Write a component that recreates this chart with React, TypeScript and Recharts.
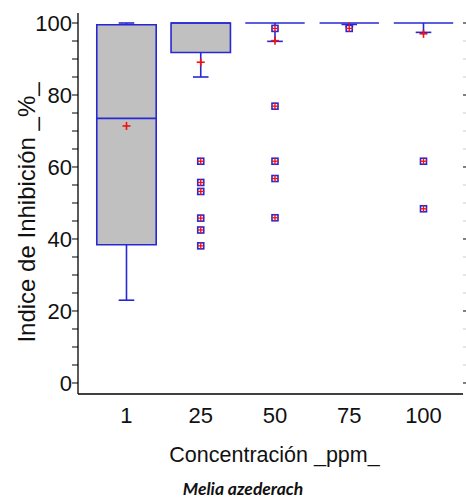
import React from "react";
import {
  ComposedChart,
  XAxis,
  YAxis,
  Scatter,
  ReferenceArea,
  ReferenceLine,
  Label,
} from "recharts";

// box plot stats per concentration
const concentrations = ["1", "25", "50", "75", "100"];
const whiskerLow = [23, 85, 94.9, 99.6, 97.4];
const q1 = [38.4, 91.8, 100, 100, 100];
const median = [73.5, 100, 100, 100, 100];
const q3 = [99.5, 100, 100, 100, 100];
const whiskerHigh = [100, 100, 100, 100, 100];
const means = [71.4, 89.1, 95.1, 99.0, 97.0];
const outliers = [
  [],
  [61.6, 55.7, 53.2, 45.8, 42.5, 38.1],
  [98.5, 76.9, 61.6, 56.8, 45.9],
  [98.5],
  [61.6, 48.4],
];
const yTicks = [0, 5, 10, 15, 20, 25, 30, 35, 40, 45, 50, 55, 60, 65, 70, 75, 80, 85, 90, 95, 100];

const BLUE = "#2727D4";
const RED = "#F01010";
const GRAY = "#C0C0C0";
const FONT = "'Liberation Sans', Arial, sans-serif";
const BOX_HALF = 0.4;
const CAP_HALF = 0.105;
const X_DOMAIN: [number, number] = [0.347, 5.532];
const Y_DOMAIN: [number, number] = [-3.06, 102.78];

const meanData = means.map((m, i) => ({ x: i + 1, y: m }));
const outlierData = outliers.flatMap((vals, i) => vals.map((v) => ({ x: i + 1, y: v })));

const MeanMark = (props: any) => {
  const { cx, cy } = props;
  return (
    <g stroke={RED} strokeWidth={1.6}>
      <line x1={cx - 4} x2={cx + 4} y1={cy} y2={cy} />
      <line x1={cx} x2={cx} y1={cy - 4} y2={cy + 4} />
    </g>
  );
};

const OutlierMark = (props: any) => {
  const { cx, cy } = props;
  return (
    <g>
      <rect x={cx - 3} y={cy - 3} width={6} height={6} fill="#fff" stroke={BLUE} strokeWidth={1.6} />
      <g stroke={RED} strokeWidth={1.3}>
        <line x1={cx - 3.5} x2={cx + 3.5} y1={cy} y2={cy} />
        <line x1={cx} x2={cx} y1={cy - 3.5} y2={cy + 3.5} />
      </g>
    </g>
  );
};

const LeftTick = (props: any) => {
  const { x, y, payload } = props;
  if (payload.value % 20 !== 0) return null;
  return (
    <text x={x} y={y} dy="0.36em" textAnchor="end" fontSize={22} fontFamily={FONT} fill="#111">
      {payload.value}
    </text>
  );
};

const RightTick = (props: any) => {
  const { x, y, payload } = props;
  const major = payload.value % 20 === 0;
  return <line x1={x} x2={x + 3} y1={y} y2={y} stroke={major ? "#000" : "#ccc"} strokeWidth={1} />;
};

const BottomTick = (props: any) => {
  const { x, y, payload } = props;
  return (
    <text x={x} y={y + 29} textAnchor="middle" fontSize={22} fontFamily={FONT} fill="#111">
      {concentrations[payload.value - 1]}
    </text>
  );
};

export default function App() {
  return (
    <div style={{ position: "absolute", left: 0, top: 0, width: 466, height: 498, background: "#fff", overflow: "hidden" }}>
      <ComposedChart width={466} height={498} margin={{ top: 13, right: 0, left: 0, bottom: 0 }}>
        <XAxis
          xAxisId={0}
          type="number"
          dataKey="x"
          domain={X_DOMAIN}
          allowDataOverflow
          ticks={[1, 2, 3, 4, 5]}
          interval={0}
          tick={<BottomTick />}
          tickLine={false}
          tickSize={0}
          tickMargin={0}
          height={104}
          axisLine={{ stroke: "#000", strokeWidth: 1.3 }}
        >
          <Label
            content={(p: any) => (
              <text
                x={p.viewBox.x + p.viewBox.width / 2 + 4}
                y={p.viewBox.y + 68}
                textAnchor="middle"
                fontSize={21.5}
                fontFamily={FONT}
                fill="#111"
              >
                Concentración _ppm_
              </text>
            )}
          />
          <Label
            content={(p: any) => (
              <text
                x={243}
                y={p.viewBox.y + 101}
                textAnchor="middle"
                fontSize={17.5}
                fontWeight="bold"
                fontStyle="italic"
                fontFamily="Lato, 'Open Sans', sans-serif"
                fill="#111"
              >
                Melia azederach
              </text>
            )}
          />
        </XAxis>
        <XAxis xAxisId="top" orientation="top" type="number" domain={[0, 1]} tick={false} tickLine={false} height={0} axisLine={{ stroke: "#000", strokeWidth: 1.3 }} />
        <YAxis
          yAxisId={0}
          type="number"
          domain={Y_DOMAIN}
          allowDataOverflow
          ticks={yTicks}
          interval={0}
          width={78}
          tickSize={6}
          tickMargin={0}
          tick={<LeftTick />}
          tickLine={{ stroke: "#000" }}
          axisLine={{ stroke: "#000", strokeWidth: 1.3 }}
        >
          <Label
            content={(p: any) => {
              const cx = p.viewBox.x + 26.5;
              const cy = p.viewBox.y + p.viewBox.height / 2 + 9;
              return (
                <text
                  x={cx}
                  y={cy}
                  transform={`rotate(-90, ${cx}, ${cy})`}
                  textAnchor="middle"
                  dominantBaseline="central"
                  fontSize={24}
                  fontFamily={FONT}
                  fill="#111"
                >
                  Indice de Inhibición _%_
                </text>
              );
            }}
          />
        </YAxis>
        <YAxis
          yAxisId="right"
          orientation="right"
          type="number"
          domain={Y_DOMAIN}
          allowDataOverflow
          ticks={yTicks}
          interval={0}
          width={3}
          tickSize={0}
          tickMargin={0}
          tickLine={false}
          axisLine={false}
          tick={<RightTick />}
        />

        {concentrations.map((c, i) =>
          q3[i] > q1[i] ? (
            <ReferenceArea
              key={`box-${c}`}
              x1={i + 1 - BOX_HALF}
              x2={i + 1 + BOX_HALF}
              y1={q1[i]}
              y2={q3[i]}
              fill={GRAY}
              fillOpacity={1}
              stroke={BLUE}
              strokeWidth={1.6}
            />
          ) : null
        )}
        {concentrations.map((c, i) => (
          <ReferenceLine
            key={`wl-${c}`}
            segment={[{ x: i + 1, y: whiskerLow[i] }, { x: i + 1, y: q1[i] }]}
            stroke={BLUE}
            strokeWidth={1.6}
          />
        ))}
        {concentrations.map((c, i) =>
          whiskerHigh[i] > q3[i] ? (
            <ReferenceLine
              key={`wh-${c}`}
              segment={[{ x: i + 1, y: q3[i] }, { x: i + 1, y: whiskerHigh[i] }]}
              stroke={BLUE}
              strokeWidth={1.6}
            />
          ) : null
        )}
        {concentrations.map((c, i) => (
          <ReferenceLine
            key={`cl-${c}`}
            segment={[{ x: i + 1 - CAP_HALF, y: whiskerLow[i] }, { x: i + 1 + CAP_HALF, y: whiskerLow[i] }]}
            stroke={BLUE}
            strokeWidth={1.6}
          />
        ))}
        {concentrations.map((c, i) =>
          whiskerHigh[i] > q3[i] ? (
            <ReferenceLine
              key={`ch-${c}`}
              segment={[{ x: i + 1 - CAP_HALF, y: whiskerHigh[i] }, { x: i + 1 + CAP_HALF, y: whiskerHigh[i] }]}
              stroke={BLUE}
              strokeWidth={1.6}
            />
          ) : null
        )}
        {concentrations.map((c, i) => (
          <ReferenceLine
            key={`med-${c}`}
            segment={[{ x: i + 1 - BOX_HALF, y: median[i] }, { x: i + 1 + BOX_HALF, y: median[i] }]}
            stroke={BLUE}
            strokeWidth={1.6}
          />
        ))}

        <Scatter data={meanData} dataKey="y" shape={<MeanMark />} isAnimationActive={false} />
        <Scatter data={outlierData} dataKey="y" shape={<OutlierMark />} isAnimationActive={false} />
      </ComposedChart>
    </div>
  );
}
